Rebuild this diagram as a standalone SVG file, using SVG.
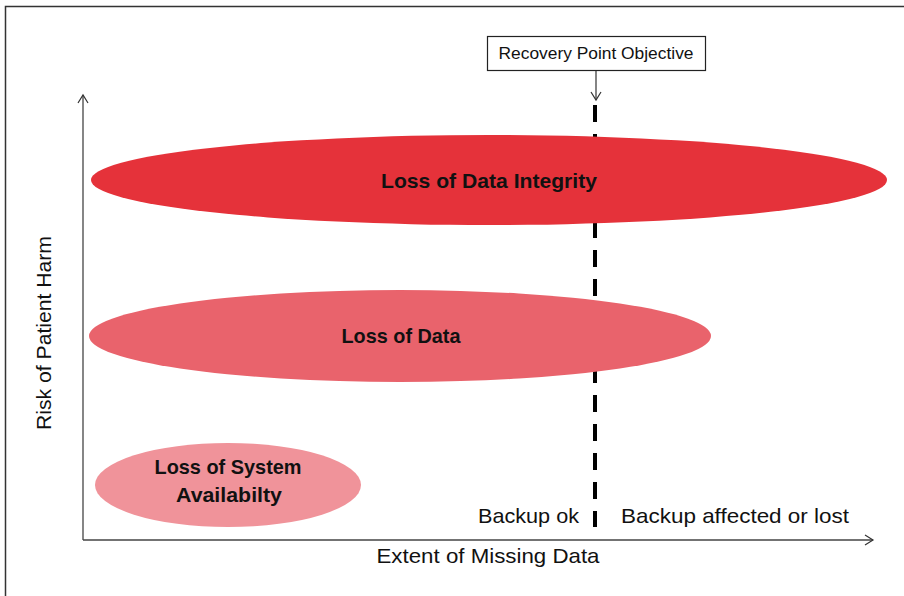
<svg xmlns="http://www.w3.org/2000/svg" width="904" height="596" viewBox="0 0 904 596">
<defs>
<style>
.lbl{font-family:"Liberation Sans",Arial,sans-serif;fill:#111;}
.b{font-weight:bold;font-size:21px;}
.n{font-size:21px;}
.ax{stroke:#444;stroke-width:1.3;fill:none;}
</style>
<marker id="open" markerWidth="12" markerHeight="12" refX="10" refY="6" orient="auto" markerUnits="userSpaceOnUse">
<path d="M2,1 L10,6 L2,11" fill="none" stroke="#333" stroke-width="1.2"/>
</marker>
</defs>
<rect x="0" y="0" width="904" height="596" fill="#fff"/>
<rect x="5.5" y="6.5" width="910" height="600" fill="none" stroke="#333" stroke-width="1.5"/>

<g id="connectors">
<line class="ax" x1="83" y1="540" x2="83" y2="95" marker-end="url(#open)"/>
<line class="ax" x1="83" y1="540" x2="873" y2="540" marker-end="url(#open)"/>
<line x1="596" y1="70" x2="596" y2="100" stroke="#333" stroke-width="1.2" marker-end="url(#open)"/>
<line x1="595" y1="105" x2="595" y2="527" stroke="#000" stroke-width="4" stroke-dasharray="17 12"/>
</g>

<g id="rpo">
<rect x="487.5" y="36.5" width="218" height="34" fill="#fff" stroke="#222" stroke-width="1.2"/>
<text class="lbl" x="596" y="59" font-size="16.5" text-anchor="middle" textLength="195" lengthAdjust="spacingAndGlyphs">Recovery Point Objective</text>
</g>

<g id="integrity">
<ellipse cx="489" cy="180" rx="398" ry="45" fill="#e5323a"/>
<text class="lbl b" x="489" y="188" text-anchor="middle" textLength="216" lengthAdjust="spacingAndGlyphs">Loss of Data Integrity</text>
</g>

<g id="dataloss">
<ellipse cx="400" cy="336" rx="311" ry="46" fill="#e9636c"/>
<text class="lbl b" x="401" y="343" text-anchor="middle" textLength="119" lengthAdjust="spacingAndGlyphs">Loss of Data</text>
</g>

<g id="availability">
<ellipse cx="228" cy="485" rx="133" ry="42" fill="#f0939a"/>
<text class="lbl b" x="228" y="474" text-anchor="middle" textLength="147" lengthAdjust="spacingAndGlyphs">Loss of System</text>
<text class="lbl b" x="229" y="502" text-anchor="middle" textLength="106" lengthAdjust="spacingAndGlyphs">Availabilty</text>
</g>

<g id="labels">
<text class="lbl n" x="478" y="523" textLength="101" lengthAdjust="spacingAndGlyphs">Backup ok</text>
<text class="lbl n" x="621" y="523" textLength="228" lengthAdjust="spacingAndGlyphs">Backup affected or lost</text>
<text class="lbl n" x="488" y="563" text-anchor="middle" textLength="223" lengthAdjust="spacingAndGlyphs">Extent of Missing Data</text>
<text class="lbl n" transform="translate(51,333) rotate(-90)" x="0" y="0" text-anchor="middle" textLength="194" lengthAdjust="spacingAndGlyphs">Risk of Patient Harm</text>
</g>
</svg>
